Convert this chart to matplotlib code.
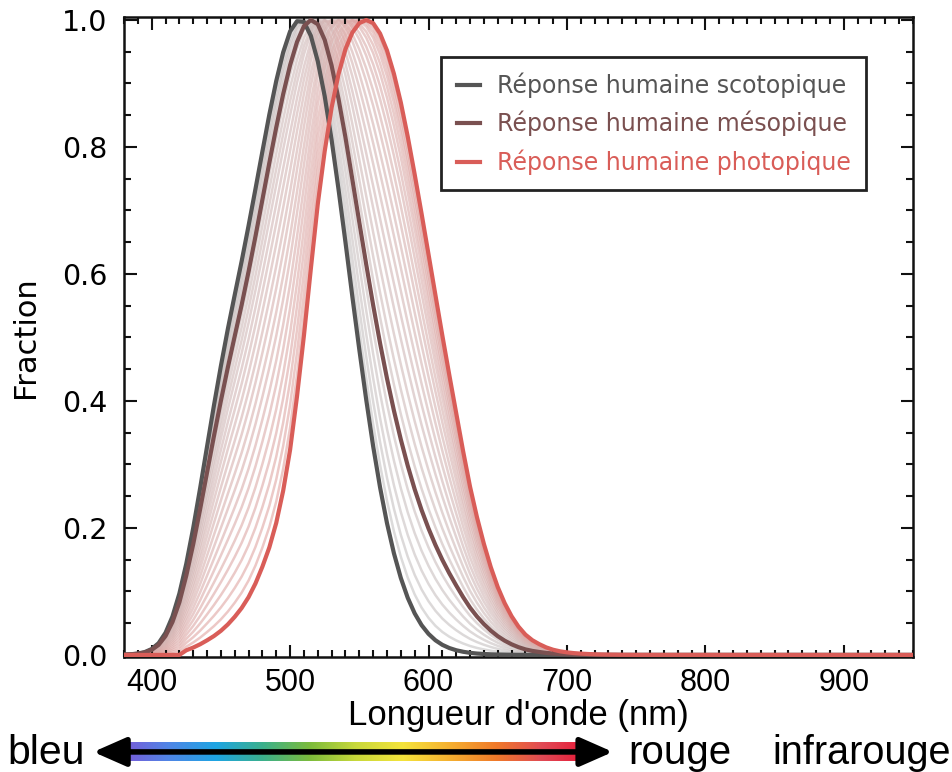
import numpy as np
import matplotlib
matplotlib.use("Agg")
import matplotlib.pyplot as plt
from matplotlib.colors import LinearSegmentedColormap, to_rgb
from matplotlib.patches import FancyArrowPatch
from matplotlib.ticker import MultipleLocator

# CIE sensitivity curves, 5 nm steps from 380 to 760 nm (+ a last point at 950)
wavelengths = list(range(380, 765, 5)) + [950]

photopic = [0, 0, 0, 0, 0, 0, 0, 0, 0,
            0.0073, 0.0116, 0.0168, 0.023, 0.0298, 0.038, 0.048, 0.06, 0.0739, 0.091,
            0.1126, 0.139, 0.1693, 0.208, 0.2586, 0.323, 0.4073, 0.503, 0.6082, 0.71,
            0.7932, 0.862, 0.9149, 0.954, 0.9803, 0.995, 1.0, 0.995, 0.9786, 0.952,
            0.9154, 0.87, 0.8163, 0.757, 0.6949, 0.631, 0.5668, 0.503, 0.4412, 0.381,
            0.321, 0.265, 0.217, 0.175, 0.1382, 0.107, 0.0816, 0.061, 0.0446, 0.032,
            0.0232, 0.017, 0.0119, 0.0082, 0.0057, 0.0041, 0.0029, 0.0021, 0.0015, 0.001,
            0.0007, 0.0005, 0.0004, 0.0002, 0.0002, 0.0001, 0.0001, 0.0001, 0]

scotopic = [0.0006, 0.0011, 0.0022, 0.0045, 0.0093, 0.0185, 0.0348, 0.0604, 0.0966,
            0.1436, 0.1998, 0.2625, 0.3281, 0.3931, 0.455, 0.513, 0.567, 0.62, 0.676,
            0.734, 0.793, 0.851, 0.904, 0.949, 0.982, 0.998, 0.997, 0.975, 0.935,
            0.88, 0.811, 0.733, 0.65, 0.564, 0.481, 0.402, 0.3288, 0.2639, 0.2076,
            0.1602, 0.1212, 0.0899, 0.0655, 0.0469, 0.0332, 0.0231, 0.0159, 0.0109, 0.0074,
            0.005, 0.0033, 0.0022, 0.0015, 0.001, 0.0007, 0.0005, 0.0003, 0.0002, 0.0001,
            0.0001, 0.0001, 0, 0, 0, 0, 0, 0, 0, 0,
            0, 0, 0, 0, 0, 0, 0, 0, 0]

# mesopic adaptation levels (0 = scotopic, 1 = photopic)
family_m = [0.0, 0.04, 0.08, 0.12, 0.16, 0.2, 0.24, 0.28, 0.32, 0.36, 0.4, 0.44, 0.48,
            0.52, 0.56, 0.6, 0.64, 0.68, 0.72, 0.76, 0.8, 0.84, 0.88, 0.92, 0.96, 1.0]
mesopic_m = 0.24

labels = ["Réponse humaine scotopique", "Réponse humaine mésopique",
          "Réponse humaine photopique"]
colors = ["#555555", "#7a5050", "#d95d58"]

wl = np.array(wavelengths, dtype=float)
V = np.array(photopic)
Vs = np.array(scotopic)


def mesopic(m):
    v = m * V + (1 - m) * Vs
    return v / v.max()


fig = plt.figure(figsize=(9.53, 7.72), dpi=100)
ax = fig.add_axes([0.1301, 0.149, 0.8279, 0.829])

c0 = np.array(to_rgb("#c4c4c4"))
c1 = np.array(to_rgb("#e2a3a0"))
for m in family_m:
    ax.plot(wl, mesopic(m), color=tuple(c0 * (1 - m) + c1 * m), lw=1.8, alpha=0.6,
            zorder=1)

ax.plot(wl, Vs, color=colors[0], lw=3, label=labels[0], zorder=3)
ax.plot(wl, mesopic(mesopic_m), color=colors[1], lw=3, label=labels[1], zorder=4)
ax.plot(wl, V, color=colors[2], lw=3, label=labels[2], zorder=5)

ax.set_xlim(380, 950)
ax.set_ylim(-0.0032, 1.0047)
ax.xaxis.set_major_locator(MultipleLocator(100))
ax.xaxis.set_minor_locator(MultipleLocator(10))
ax.yaxis.set_major_locator(MultipleLocator(0.2))
ax.yaxis.set_minor_locator(MultipleLocator(0.05))
ax.tick_params(which="both", direction="in", top=True, right=True, width=1.5,
               color="#111111")
ax.tick_params(which="major", length=9)
ax.tick_params(which="minor", length=5)
ax.tick_params(axis="y", labelsize=20.5, pad=12)
ax.tick_params(axis="x", labelsize=22, pad=8)
for lab in ax.get_xticklabels():
    lab.set_fontfamily("Liberation Sans")
for sp in ax.spines.values():
    sp.set_linewidth(1.8)
    sp.set_color("#111111")

ax.set_ylabel("Fraction", fontsize=22, labelpad=16)
ax.set_xlabel("Longueur d'onde (nm)", fontsize=25, family="Liberation Sans",
              labelpad=1)

leg = ax.legend(loc="upper right", bbox_to_anchor=(0.9404, 0.9375), borderaxespad=0,
                fontsize=17, handlelength=1.0, handletextpad=0.7, labelspacing=0.55,
                borderpad=0.65, fancybox=False, framealpha=1)
leg.get_frame().set_edgecolor("#222222")
leg.get_frame().set_linewidth(2)
for txt, col in zip(leg.get_texts(), colors):
    txt.set_color(col)

# colour bar of the visible spectrum with a double arrow
rainbow = LinearSegmentedColormap.from_list(
    "spec", ["#7a5ad8", "#4f86e6", "#1ea5e3", "#3bb08c", "#7bbb3c", "#c8d83a",
             "#f4e43c", "#f5b030", "#f07a2a", "#e04a55", "#e81535"])
bar = fig.add_axes([0.128, 0.0145, 0.491, 0.024])
bar.imshow(np.linspace(0, 1, 256)[None, :], aspect="auto", cmap=rainbow)
bar.axis("off")

arrow = FancyArrowPatch((0.095, 0.026), (0.646, 0.026), transform=fig.transFigure,
                        arrowstyle="<|-|>,head_length=0.5,head_width=0.22",
                        mutation_scale=40, lw=4, color="black")
fig.patches.append(arrow)

fig.text(0.008, 0.010, "bleu", fontsize=29.5, family="Liberation Sans", va="baseline")
fig.text(0.659, 0.010, "rouge", fontsize=29, family="Liberation Sans", va="baseline")
fig.text(0.810, 0.010, "infrarouge", fontsize=28.5, family="Liberation Sans",
         va="baseline")

fig.savefig("out.png", dpi=100)
